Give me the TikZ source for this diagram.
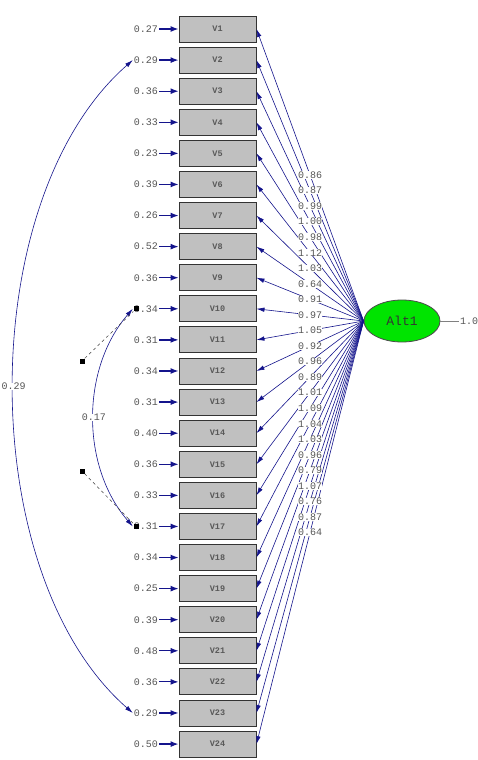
\documentclass[tikz,border=0pt]{standalone}
\usepackage{fontspec}
\newfontfamily\lisfont{Liberation Mono}
\usetikzlibrary{shapes.geometric,arrows.meta,calc}
\definecolor{lnavy}{RGB}{20,20,140}
\definecolor{boxgray}{RGB}{192,192,192}
\definecolor{altgreen}{RGB}{0,228,0}
\definecolor{numgray}{RGB}{85,85,85}
\begin{document}
\begin{tikzpicture}[x=1pt,y=-1pt,
  obsbox/.style={draw=black!80, line width=0.9pt, fill=boxgray, minimum width=77pt, minimum height=26pt, inner sep=0pt, font=\lisfont\fontsize{8.5}{9}\selectfont\bfseries, text=black!65},
  errlab/.style={font=\lisfont\fontsize{10}{11}\selectfont, text=numgray, inner sep=1pt},
  loadlab/.style={font=\lisfont\fontsize{10}{11}\selectfont, text=numgray, fill=white, inner sep=0.3pt},
  patharrow/.style={draw=lnavy, line width=0.6pt, -{Latex[length=8pt,width=4.5pt]}},
  errarrow/.style={draw=lnavy, line width=1.2pt, -{Latex[length=8pt,width=6pt]}},
  covarrow/.style={draw=lnavy, line width=0.6pt, {Latex[length=8pt,width=4.5pt]}-{Latex[length=8pt,width=4.5pt]}},
  handle/.style={fill=black, minimum size=5pt, inner sep=0pt},
  handleline/.style={draw=black!75, dashed, line width=0.5pt},
  latent/.style={ellipse, draw=black!70, line width=0.8pt, fill=altgreen, minimum width=76pt, minimum height=42pt, font=\lisfont\fontsize{13}{14}\selectfont, text=black!80}]
\clip (0,0) rectangle (478,760);
\fill[white] (0,0) rectangle (478,760);
% observed variables and error variances
\foreach \i/\ev in {1/0.27,2/0.29,3/0.36,4/0.33,5/0.23,6/0.39,7/0.26,8/0.52,9/0.36,10/0.34,11/0.31,12/0.34,13/0.31,14/0.40,15/0.36,16/0.33,17/0.31,18/0.34,19/0.25,20/0.39,21/0.48,22/0.36,23/0.29,24/0.50}{
  \pgfmathsetmacro\cy{29+(\i-1)*31.09}
  \node[obsbox] (v\i) at (217.5,\cy) {V\i};
  \node[errlab] (e\i) at (146,\cy) {\ev};
  \draw[errarrow] (e\i.east) -- (v\i.west);
}
% latent variable
\node[latent] (alt) at (402,321) {Alt1};
\node[errlab, anchor=west] (altvar) at (459,321) {1.00};
\draw[gray, line width=0.5pt] (alt.east) -- (altvar.west);
% loadings
\foreach \i in {1,...,24}{
  \draw[patharrow] (alt.west) -- (v\i.east);
}
\foreach \i/\ld in {1/0.86,2/0.87,3/0.99,4/1.00,5/0.98,6/1.12,7/1.03,8/0.64,9/0.91,10/0.97,11/1.05,12/0.92,13/0.96,14/0.89,15/1.01,16/1.09,17/1.04,18/1.03,19/0.96,20/0.79,21/1.07,22/0.76,23/0.87,24/0.64}{
  \node[loadlab] (l\i) at ($(alt.west)!0.5!(v\i.east)$) {\ld};
}
% covariances
\draw[covarrow] (e2.west) .. controls +(-159,139) and +(-159,-139) .. (e23.west) node[loadlab, pos=0.5] (c1) {0.29};
\draw[covarrow] (e10.west) .. controls +(-52,60) and +(-52,-60) .. (e17.west) node[loadlab, pos=0.5] (c2) {0.17};
% handles
\node[handle] (s1) at (82,361) {};
\node[handle] (t1) at (136,308.8) {};
\node[handle] (s2) at (82,471) {};
\node[handle] (t2) at (136,526.4) {};
\draw[handleline] (s1) -- (t1);
\draw[handleline] (s2) -- (t2);
\end{tikzpicture}
\end{document}
